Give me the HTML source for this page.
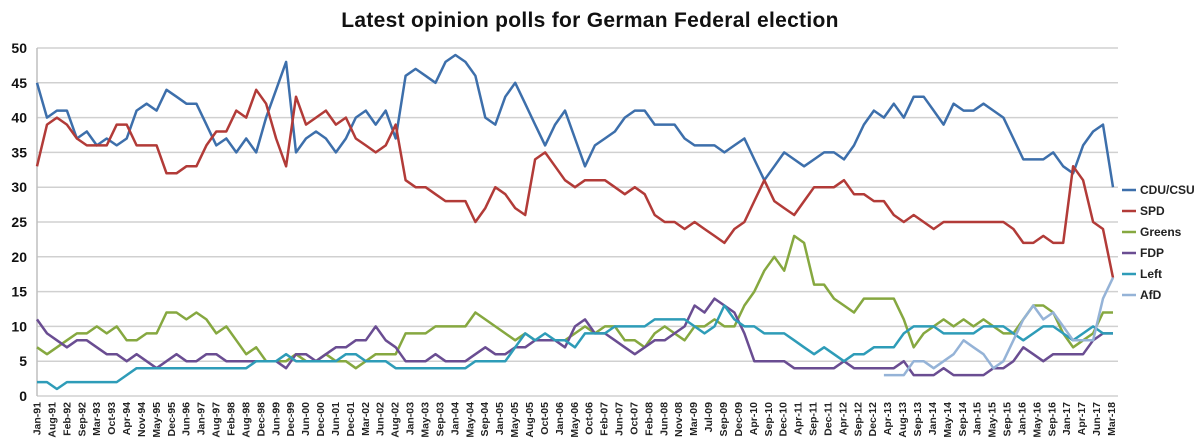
<!DOCTYPE html>
<html><head><meta charset="utf-8"><style>
html,body{margin:0;padding:0;background:#fff;}
svg{display:block;font-family:"Liberation Sans",sans-serif;}
</style></head><body>
<svg id="chart" width="1200" height="445" viewBox="0 0 1200 445" xmlns="http://www.w3.org/2000/svg">
<text x="590" y="27" text-anchor="middle" font-size="21" font-weight="bold" letter-spacing="0.3" fill="#111">Latest opinion polls for German Federal election</text>
<g id="grid"></g>
<g id="yaxis"></g>
<g id="xaxis"></g>
<g id="series"></g>
<g id="legend"></g>
</svg>
<script>
const xLabels=["Jan-91","Aug-91","Feb-92","Sep-92","Mar-93","Oct-93","Apr-94","Nov-94","May-95","Dec-95","Jun-96","Jan-97","Aug-97","Feb-98","Aug-98","Dec-98","Jun-99","Dec-99","Jun-00","Dec-00","Jun-01","Dec-01","Mar-02","Jun-02","Aug-02","Jan-03","May-03","Sep-03","Jan-04","May-04","Sep-04","Jan-05","May-05","Aug-05","Oct-05","Jan-06","May-06","Oct-06","Feb-07","Jun-07","Oct-07","Feb-08","Jun-08","Nov-08","Mar-09","Jul-09","Sep-09","Dec-09","Apr-10","Sep-10","Dec-10","Apr-11","Sep-11","Dec-11","Apr-12","Sep-12","Dec-12","Apr-13","Aug-13","Sep-13","Jan-14","May-14","Sep-14","Jan-15","May-15","Sep-15","Jan-16","May-16","Sep-16","Jan-17","Apr-17","Jun-17","Mar-18"];
const yTicks=[0,5,10,15,20,25,30,35,40,45,50];
const seriesNames=["CDU/CSU","SPD","Greens","FDP","Left","AfD"];
const cdu=[45,40,41,41,37,38,36,37,36,37,41,42,41,44,43,42,42,39,36,37,35,37,35,40,44,48,35,37,38,37,35,37,40,41,39,41,37,46,47,46,45,48,49,48,46,40,39,43,45,42,39,36,39,41,37,33,36,37,38,40,41,41,39,39,39,37,36,36,36,35,36,37,34,31,33,35,34,33,34,35,35,34,36,39,41,40,42,40,43,43,41,39,42,41,41,42,41,40,37,34,34,34,35,33,32,36,38,39,30];
const spd=[33,39,40,39,37,36,36,36,39,39,36,36,36,32,32,33,33,36,38,38,41,40,44,42,37,33,43,39,40,41,39,40,37,36,35,36,39,31,30,30,29,28,28,28,25,27,30,29,27,26,34,35,33,31,30,31,31,31,30,29,30,29,26,25,25,24,25,24,23,22,24,25,28,31,28,27,26,28,30,30,30,31,29,29,28,28,26,25,26,25,24,25,25,25,25,25,25,25,24,22,22,23,22,22,33,31,25,24,17];
const greens=[7,6,7,8,9,9,10,9,10,8,8,9,9,12,12,11,12,11,9,10,8,6,7,5,5,5,6,5,5,6,5,5,4,5,6,6,6,9,9,9,10,10,10,10,12,11,10,9,8,9,8,8,8,8,9,10,9,10,10,8,8,7,9,10,9,8,10,10,11,10,10,13,15,18,20,18,23,22,16,16,14,13,12,14,14,14,14,11,7,9,10,11,10,11,10,11,10,9,9,11,13,13,12,9,7,8,9,12,12];
const fdp=[11,9,8,7,8,8,7,6,6,5,6,5,4,5,6,5,5,6,6,5,5,5,5,5,5,4,6,6,5,6,7,7,8,8,10,8,7,5,5,5,6,5,5,5,6,7,6,6,7,7,8,8,8,7,10,11,9,9,8,7,6,7,8,8,9,10,13,12,14,13,12,9,5,5,5,5,4,4,4,4,4,5,4,4,4,4,4,5,3,3,3,4,3,3,3,3,4,4,5,7,6,5,6,6,6,6,8,9,9];
const left=[2,2,1,2,2,2,2,2,2,3,4,4,4,4,4,4,4,4,4,4,4,4,5,5,5,6,5,5,5,5,5,6,6,5,5,5,4,4,4,4,4,4,4,4,5,5,5,5,7,9,8,9,8,8,7,9,9,9,10,10,10,10,11,11,11,11,10,9,10,13,11,10,10,9,9,9,8,7,6,7,6,5,6,6,7,7,7,9,10,10,10,9,9,9,9,10,10,10,9,8,9,10,10,9,8,9,10,9,9];
const afd=[null,null,null,null,null,null,null,null,null,null,null,null,null,null,null,null,null,null,null,null,null,null,null,null,null,null,null,null,null,null,null,null,null,null,null,null,null,null,null,null,null,null,null,null,null,null,null,null,null,null,null,null,null,null,null,null,null,null,null,null,null,null,null,null,null,null,null,null,null,null,null,null,null,null,null,null,null,null,null,null,null,null,null,null,null,3,3,3,5,5,4,5,6,8,7,6,4,5,8,11,13,11,12,10,8,8,8,14,17];
const allSeries=[cdu,spd,greens,fdp,left,afd];
const colors=["#3D6FAB","#B23B38","#86A840","#6A4D92","#2E9CB8","#95B3D7"];
const NS="http://www.w3.org/2000/svg";
const X0=37,X1=1118,XD1=1113,Y0=396,Y50=48;
const N=cdu.length;
function xData(i){return X0+(XD1-X0)*i/(N-1);}
function yS(v){return Y0-(Y0-Y50)*v/50;}
function mk(tag,attrs,parent){const e=document.createElementNS(NS,tag);for(const k in attrs)e.setAttribute(k,attrs[k]);parent.appendChild(e);return e;}
const grid=document.getElementById('grid'),yax=document.getElementById('yaxis'),xax=document.getElementById('xaxis'),ser=document.getElementById('series'),leg=document.getElementById('legend');
yTicks.forEach(t=>{
  const l=mk('line',{x1:X0,x2:X1,y1:yS(t),y2:yS(t),stroke:'#D0D0D0','stroke-width':1.5},grid);
  
  
  const tx=mk('text',{x:27,y:yS(t)+5,'text-anchor':'end','font-size':14,'font-weight':'bold',fill:'#111'},yax);
  tx.textContent=t;
  
  
});
const ax=mk('line',{x1:X0,x2:X0,y1:Y50,y2:Y0,stroke:'#BFBFBF','stroke-width':1.5},yax);


const LS=(1111-36.5)/(xLabels.length-1);
xLabels.forEach((lab,k)=>{
  const x=36.5+LS*k+4;
  const tx=mk('text',{x:0,y:0,transform:'translate('+x+',402) rotate(-90)','text-anchor':'end','font-size':10.5,'font-weight':'bold',fill:'#222'},xax);
  tx.textContent=lab;
  
  
});
allSeries.forEach((s,si)=>{
  let d='',pen=false;
  s.forEach((v,i)=>{
    if(v===null){pen=false;return;}
    d+=(pen?'L':'M')+xData(i).toFixed(1)+' '+yS(v).toFixed(1)+' ';pen=true;
  });
  const p=mk('path',{d:d,fill:'none',stroke:colors[si],'stroke-width':2.5,'stroke-linejoin':'round'},ser);
  
  
});
seriesNames.forEach((n,si)=>{
  const y=190+21*si;
  const g=mk('g',{},leg);
  
  
  mk('line',{x1:1122,x2:1136,y1:y,y2:y,stroke:colors[si],'stroke-width':2.5},g);
  const t=mk('text',{x:1140,y:y+4,'font-size':12,'font-weight':'bold',fill:'#222'},g);
  t.textContent=n;
});
</script>
</body></html>
